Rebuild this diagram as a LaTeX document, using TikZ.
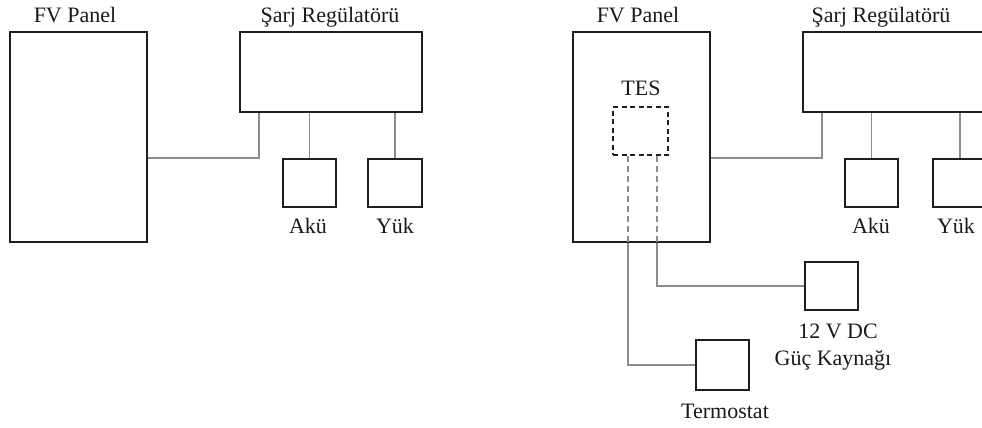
\documentclass[tikz,border=0pt]{standalone}
\usepackage{fontspec}
\setmainfont{Liberation Serif}
\begin{document}
\begin{tikzpicture}[x=1bp,y=-1bp,
  box/.style={draw=black!88, line width=2.2bp, rectangle, inner sep=0pt},
  dbox/.style={draw=black!88, line width=1.9bp, dashed, dash pattern=on 5bp off 3.5bp, rectangle, inner sep=0pt},
  conn/.style={draw=black!45, line width=1.6bp},
  dconn/.style={draw=black!45, line width=1.6bp, dash pattern=on 6bp off 4bp},
  lbl/.style={anchor=base, inner sep=0pt, font=\fontsize{22bp}{26bp}\selectfont, text=black!90}]
\useasboundingbox (0,0) rectangle (982,427);
\clip (0,0) rectangle (982,427);
% left diagram
\node[box, minimum width=137bp, minimum height=210bp] (fvA) at (78.5,137) {};
\node[box, minimum width=182bp, minimum height=80bp] (srA) at (331,72) {};
\node[box, minimum width=53bp, minimum height=48bp] (akA) at (309.5,183) {};
\node[box, minimum width=54bp, minimum height=48bp] (ykA) at (395,183) {};
\node[lbl] (fvAl) at (75,22) {FV Panel};
\node[lbl] (srAl) at (330,22) {Şarj Regülatörü};
\node[lbl] (akAl) at (308,233) {Akü};
\node[lbl] (ykAl) at (395,233) {Yük};
\draw[conn] (fvA.east |- akA.north) -| ([xshift=20bp]srA.south west);
\draw[conn] (akA.north) -- (akA.north |- srA.south);
\draw[conn] (ykA.north) -- (ykA.north |- srA.south);
% right diagram
\node[box, minimum width=137bp, minimum height=210bp] (fvB) at (641.5,137) {};
\node[dbox, minimum width=55bp, minimum height=48bp] (tes) at (640.5,131) {};
\node[box, minimum width=182bp, minimum height=80bp] (srB) at (894,72) {};
\node[box, minimum width=53bp, minimum height=48bp] (akB) at (871.5,183) {};
\node[box, minimum width=54bp, minimum height=48bp] (ykB) at (960,183) {};
\node[box, minimum width=53bp, minimum height=48bp] (dc) at (831.5,286) {};
\node[box, minimum width=53bp, minimum height=50bp] (term) at (722.5,365) {};
\node[lbl] (fvBl) at (638,22) {FV Panel};
\node[lbl] (tesl) at (641,95) {TES};
\node[lbl] (srBl) at (881,22) {Şarj Regülatörü};
\node[lbl] (akBl) at (871,233) {Akü};
\node[lbl] (ykBl) at (956,233) {Yük};
\node[lbl] (dcl1) at (838,338) {12 V DC};
\node[lbl] (dcl2) at (833,365) {Güç Kaynağı};
\node[lbl] (terml) at (725,418) {Termostat};
\draw[conn] (fvB.east |- akB.north) -| ([xshift=20bp]srB.south west);
\draw[conn] (akB.north) -- (akB.north |- srB.south);
\draw[conn] (ykB.north) -- (ykB.north |- srB.south);
\draw[dconn] ([xshift=-12.5bp]tes.south) -- ([xshift=-12.5bp]tes.south |- fvB.south);
\draw[dconn] ([xshift=16.5bp]tes.south) -- ([xshift=16.5bp]tes.south |- fvB.south);
\draw[conn] ([xshift=-12.5bp]tes.south |- fvB.south) |- (term.west);
\draw[conn] ([xshift=16.5bp]tes.south |- fvB.south) |- (dc.west);
\end{tikzpicture}
\end{document}
